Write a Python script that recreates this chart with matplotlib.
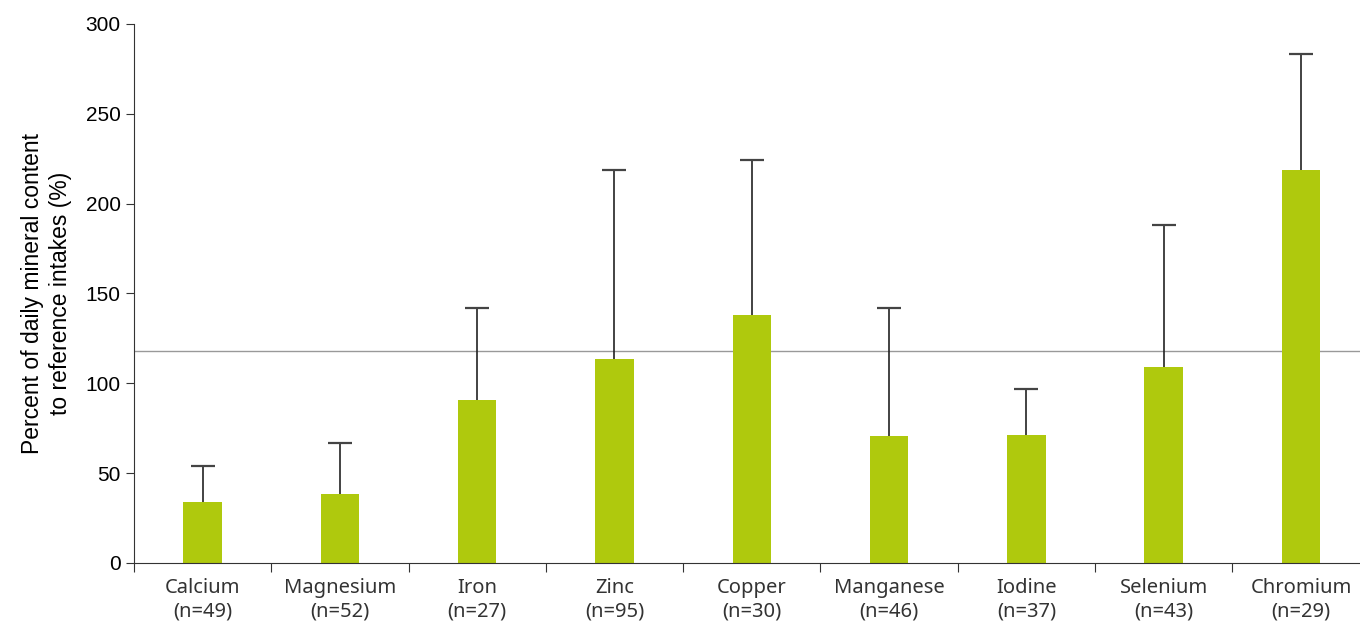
import matplotlib
matplotlib.use('Agg')
import matplotlib.pyplot as plt
import numpy as np

minerals = ['Calcium', 'Magnesium', 'Iron', 'Zinc', 'Copper',
            'Manganese', 'Iodine', 'Selenium', 'Chromium']
counts = [49, 52, 27, 95, 30, 46, 37, 43, 29]
means = [34, 38.5, 90.5, 113.5, 138, 70.5, 71, 109, 218.7]
upper = [54, 67, 142, 219, 224.5, 142, 97, 188, 283.5]  # top of error bar
ref_line = 118

plt.rcParams['font.family'] = ['Liberation Sans', 'DejaVu Sans']

fig = plt.figure(figsize=(13.6, 6.21), dpi=100)
ax = fig.add_axes([0.0985, 0.0934, 0.9015, 0.868])

x = np.arange(len(minerals))
ax.axhline(ref_line, color='#999999', linewidth=1, zorder=0)
# upward-only error bars: stem + cap
ax.vlines(x, means, upper, color='#222222', linewidth=1.2, zorder=1)
ax.plot(x, upper, linestyle='none', marker='_', markersize=17,
        markeredgewidth=1.6, color='#444444', zorder=1)
ax.bar(x, means, width=0.28, color='#afc90d', zorder=2)

ax.set_xlim(-0.5, 8.43)
ax.set_ylim(0, 300)
ax.set_yticks(range(0, 301, 50))
ax.set_xticks(np.arange(-0.5, 8.5, 1))
ax.set_xticklabels([])
ax.set_xticks(x, minor=True)
ax.set_xticklabels([f'{m}\n(n={c})' for m, c in zip(minerals, counts)], minor=True,
                   family=['Noto Sans', 'DejaVu Sans'], color='#333333')
ax.tick_params(axis='x', which='minor', length=0, pad=11, labelsize=14.5)
ax.tick_params(axis='x', which='major', length=6.5, color='#333333')
ax.tick_params(axis='y', length=5.5, labelsize=15, color='#333333', pad=4)

for s in ['top', 'right']:
    ax.spines[s].set_visible(False)
ax.spines['left'].set_color('#333333')
ax.spines['bottom'].set_color('#333333')

ax.set_ylabel('Percent of daily mineral content\nto reference intakes (%)', fontsize=16.5,
              labelpad=10, linespacing=1.25)

fig.savefig('out.png', dpi=100)
